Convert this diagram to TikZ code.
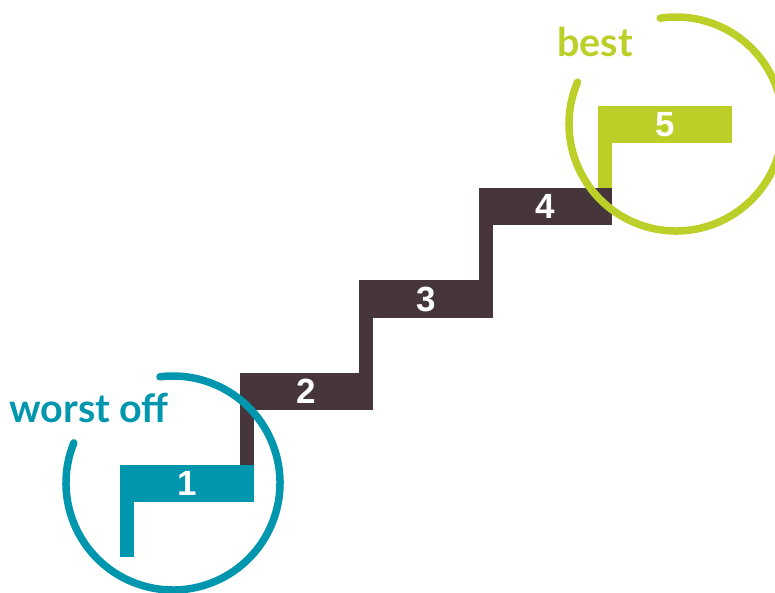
\documentclass[tikz,border=0pt]{standalone}
\usepackage{fontspec}
\setmainfont{Liberation Sans}
\newfontfamily\labelfont{Lato}
\definecolor{stepteal}{RGB}{0,150,174}
\definecolor{stepdark}{RGB}{70,54,59}
\definecolor{stepgreen}{RGB}{188,207,40}
\tikzset{
  num/.style={text=white,font=\fontsize{35}{35}\selectfont\bfseries,inner sep=0pt},
  lbl/.style={font=\labelfont\fontsize{39.5}{40}\selectfont\bfseries,inner sep=0pt,anchor=base west},
  ring/.style={line width=7.5pt,line cap=round}
}
\begin{document}
\begin{tikzpicture}[x=1pt,y=1pt]
\useasboundingbox (0,0) rectangle (775,592);
% steps: number / left / top / foot of the leg / colour
\foreach \k/\x/\y/\yb/\col in {1/120/127/35/stepteal,2/239.5/219/127/stepdark,3/359/311.5/219/stepdark,4/478.5/404/311.5/stepdark,5/598/486/404/stepgreen}{
  \fill[\col] (\x,\y) rectangle ++(133.5,-37);
  \fill[\col] (\x,\y) rectangle ({\x+14},\yb);
  \node[num] (n\k) at ({\x+66.75},{\y-18.5}) {\k};
}
\coordinate (C1) at (173,109);
\coordinate (C5) at (676,468);
\draw[ring,stepteal] (C1) ++(158:107) arc (158:457:107);
\draw[ring,stepgreen] (C5) ++(157:107) arc (157:458.5:107);
\node[lbl,text=stepteal] (worst) at (9,170) {worst off};
\node[lbl,text=stepgreen] (best) at (557,535) {best};
\end{tikzpicture}
\end{document}
